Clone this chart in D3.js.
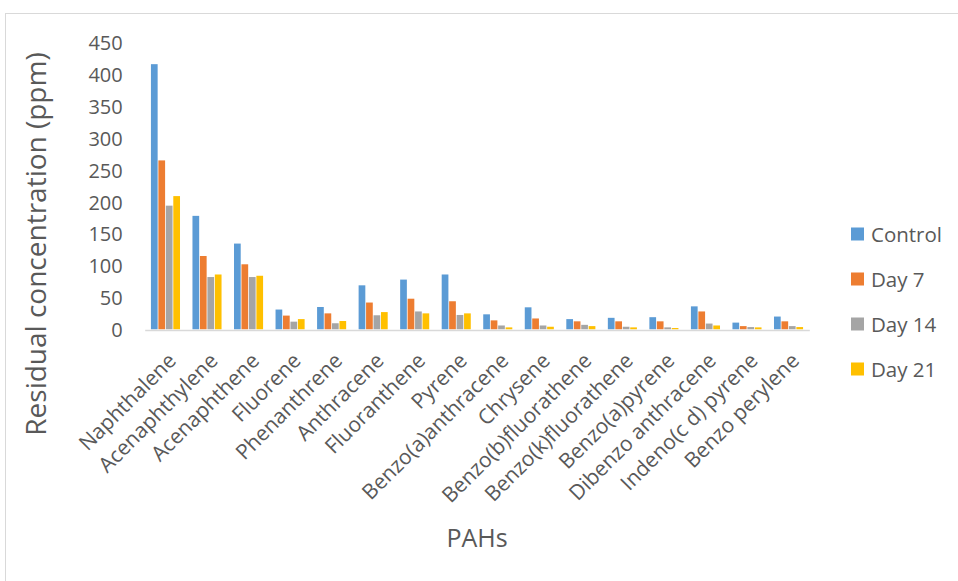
<!DOCTYPE html>
<html>
<head>
<meta charset="utf-8">
<script src="https://cdn.jsdelivr.net/npm/d3@7"></script>
<style>
  html, body { margin: 0; padding: 0; background: #fff; }
  svg { display: block; }
  text { font-family: "Open Sans", "Noto Sans", sans-serif; fill: #595959; }
</style>
</head>
<body>
<svg id="chart" width="958" height="581"></svg>
<script>
// PAH compounds on the category axis
const categories = [
  "Naphthalene", "Acenaphthylene", "Acenaphthene", "Fluorene", "Phenanthrene",
  "Anthracene", "Fluoranthene", "Pyrene", "Benzo(a)anthracene", "Chrysene",
  "Benzo(b)fluorathene", "Benzo(k)fluorathene", "Benzo(a)pyrene",
  "Dibenzo anthracene", "Indeno(c d) pyrene", "Benzo perylene"
];

// Residual concentration (ppm) per treatment
const seriesNames = ["Control", "Day 7", "Day 14", "Day 21"];
const control = [416, 178, 134.5, 31, 35, 69, 78, 86, 23.5, 34.5, 16, 18, 19, 36, 10.5, 20];
const day7    = [265, 115, 102, 21.5, 25, 42, 48, 44, 14, 17, 12.5, 12.5, 12.5, 28, 5, 12.5];
const day14   = [194, 82, 82, 12, 9.5, 22, 28, 22.5, 6, 6, 7, 4, 3, 9, 3.5, 5];
const day21   = [209, 86, 84, 16, 13, 27, 25, 25, 3, 4, 5, 3, 2, 6, 3, 3.5];
const seriesColors = ["#5B9BD5", "#ED7D31", "#A5A5A5", "#FFC000"];

const yTicks = [0, 50, 100, 150, 200, 250, 300, 350, 400, 450];

const seriesValues = [control, day7, day14, day21];
const rows = categories.map((c, i) => ({
  name: c,
  values: seriesNames.map((s, j) => ({ series: s, idx: j, value: seriesValues[j][i] }))
}));

const svg = d3.select("#chart");

// chart frame
svg.append("rect")
  .attr("x", 5.5).attr("y", 13.5)
  .attr("width", 1000).attr("height", 1000)
  .attr("fill", "none").attr("stroke", "#d9d9d9").attr("stroke-width", 1);

const plot = { left: 144.7, right: 809.3, top: 42.5, bottom: 329.3 };

const x0 = d3.scaleBand()
  .domain(categories)
  .range([plot.left, plot.right])
  .paddingInner(0.3)
  .paddingOuter(0.15);

const x1 = d3.scaleBand()
  .domain(seriesNames)
  .range([0, x0.bandwidth()])
  .paddingInner(0.1);

const y = d3.scaleLinear()
  .domain([0, 450])
  .range([plot.bottom, plot.top]);

// value axis (labels only, no line or gridlines)
const yAxis = d3.axisLeft(y).tickValues(yTicks).tickSize(0).tickPadding(0);
const gy = svg.append("g")
  .attr("transform", `translate(${plot.left - 22},0)`)
  .call(yAxis);
gy.select(".domain").remove();
gy.selectAll("text")
  .attr("font-size", 20)
  .attr("dy", "0.36em")
  .style("font-family", '"Open Sans", sans-serif')
  .attr("fill", "#595959");

// bars
const groups = svg.append("g").selectAll("g")
  .data(rows)
  .join("g")
  .attr("transform", d => `translate(${x0(d.name)},0)`);

groups.selectAll("rect")
  .data(d => d.values)
  .join("rect")
  .attr("x", d => x1(d.series))
  .attr("y", d => y(d.value))
  .attr("width", x1.bandwidth())
  .attr("height", d => y(0) - y(d.value))
  .attr("fill", d => seriesColors[d.idx]);

// category axis line and rotated labels
const xAxis = d3.axisBottom(x0).tickSize(0).tickPadding(0);
const gx = svg.append("g")
  .attr("transform", `translate(0,${plot.bottom + 0.7})`)
  .call(xAxis);
gx.select(".domain")
  .attr("stroke", "#d9d9d9").attr("stroke-width", 1.5);
gx.selectAll(".tick text")
  .attr("font-size", 21)
  .attr("text-anchor", "end")
  .attr("dy", 0)
  .style("font-family", '"Open Sans", sans-serif')
  .attr("fill", "#595959")
  .attr("transform", "translate(12,32) rotate(-45)");

// axis titles
svg.append("text")
  .attr("transform", `translate(46,244) rotate(-90)`)
  .attr("text-anchor", "middle")
  .attr("font-size", 28)
  .text("Residual concentration (ppm)");

svg.append("text")
  .attr("x", 477).attr("y", 547)
  .attr("text-anchor", "middle")
  .attr("font-size", 25)
  .text("PAHs");

// legend
const legend = svg.append("g").selectAll("g")
  .data(seriesNames)
  .join("g")
  .attr("transform", (d, i) => `translate(851,${234.5 + i * 45})`);

legend.append("rect")
  .attr("x", 0).attr("y", -7)
  .attr("width", 13).attr("height", 13)
  .attr("fill", (d, i) => seriesColors[i]);

legend.append("text")
  .attr("x", 20).attr("y", 0)
  .attr("dy", "0.35em")
  .attr("font-size", 20.5)
  .text(d => d);
</script>
</body>
</html>
